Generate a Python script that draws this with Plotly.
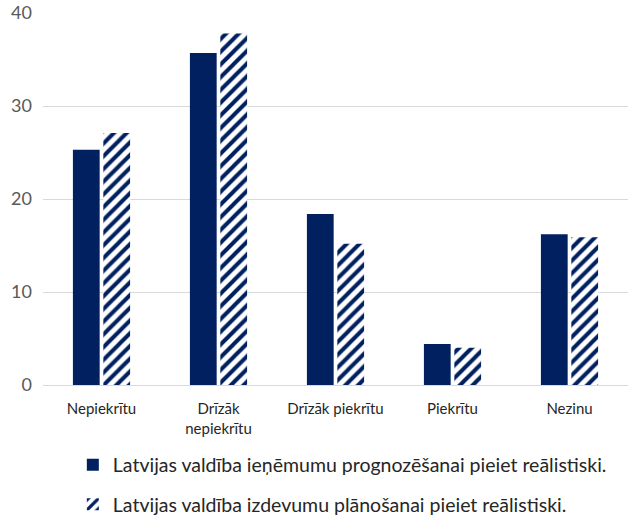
import plotly.graph_objects as go

categories = ["Nepiekrītu", "Drīzāk<br>nepiekrītu", "Drīzāk piekrītu", "Piekrītu", "Nezinu"]
series_names = [
    "Latvijas valdība ieņēmumu prognozēšanai pieiet reālistiski.",
    "Latvijas valdība izdevumu plānošanai pieiet reālistiski.",
]
revenue_values = [25.3, 35.7, 18.4, 4.4, 16.2]
expense_values = [27.1, 37.8, 15.2, 4.0, 15.9]
y_ticks = [0, 10, 20, 30, 40]

navy = "#002060"

fig = go.Figure()
fig.add_trace(go.Bar(
    x=categories, y=revenue_values, name=series_names[0], legendgroup="a",
    marker=dict(color=navy, line=dict(width=0)),
))
fig.add_trace(go.Bar(
    x=categories, y=expense_values, name=series_names[1], legendgroup="b",
    marker=dict(color="white", line=dict(width=0),
                pattern=dict(shape="/", fgcolor=navy, bgcolor="white", fgopacity=1,
                             size=9, solidity=0.45, fillmode="overlay")),
))

fig.update_layout(
    width=643, height=520,
    margin=dict(l=43, r=15, t=13, b=135, autoexpand=False),
    paper_bgcolor="white", plot_bgcolor="white",
    barmode="group", bargap=0.48, bargroupgap=0.12,
    font=dict(family="Lato, Noto Sans, sans-serif", size=15, color="#262626"),
    showlegend=True,
    legend=dict(orientation="v", x=0.051, xanchor="left",
                yref="container", y=0.143, yanchor="top",
                font=dict(size=19.5, color="#262626"), tracegroupgap=11,
                itemwidth=30),
    xaxis=dict(showgrid=False, showline=True, linecolor="#d9d9d9", linewidth=1,
               ticks="", ticklabelstandoff=10, automargin=False,
               tickfont=dict(size=15, color="#262626")),
    yaxis=dict(range=[0, 40], tickvals=y_ticks, showgrid=True, gridcolor="#d9d9d9",
               gridwidth=1, zeroline=False, showline=False, automargin=False,
               ticklabelstandoff=10,
               tickfont=dict(size=18, color="#595959"), ticklen=0, ticks=""),
)

fig.write_html("out.html", config={"displayModeBar": False},
               post_script="document.body.style.margin='0';")
